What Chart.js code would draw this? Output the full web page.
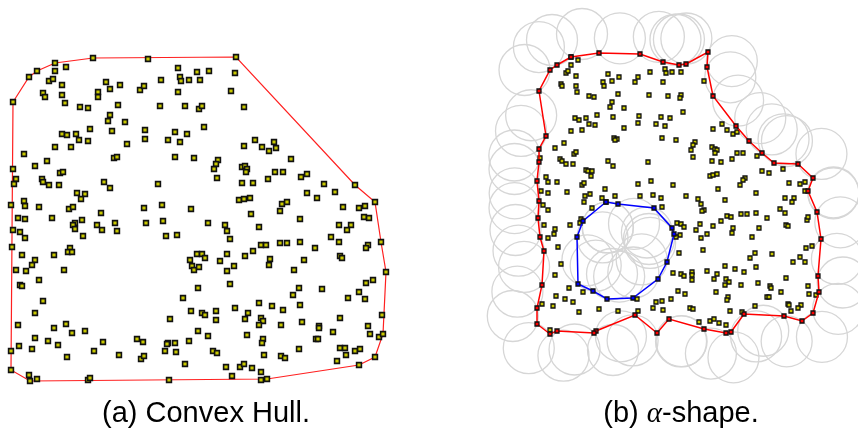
<!DOCTYPE html>
<html><head><meta charset="utf-8">
<script src="https://cdn.jsdelivr.net/npm/chart.js@4.4.0/dist/chart.umd.min.js"></script>
<style>
html,body{margin:0;padding:0;background:#fff;}
#wrap{position:relative;width:858px;height:430px;}
canvas{position:absolute;left:0;top:0;}
.cap{position:absolute;top:398px;width:320px;text-align:center;font-family:"Liberation Sans",Arial,sans-serif;font-size:29px;line-height:29px;color:#000;white-space:nowrap;}
.alpha{font-family:"Liberation Serif","DejaVu Serif",serif;font-style:italic;}
</style></head><body>
<div id="wrap"><canvas id="c" width="858" height="430"></canvas>
<div class="cap" style="left:46px">(a) Convex Hull.</div>
<div class="cap" style="left:521px">(b) <span class="alpha">α</span>-shape.</div>
</div>
<script>
// ---- Panel (a): point set and convex hull ----
const leftPoints = [
[66,67],[55,71],[49,81],[53,79],[62,85],[43,93],[45,97],[62,95],[65,103],[80,107],[88,108],[106,82],[110,89],[120,85],[98,92],[98,97],[118,105],[110,115],[108,121],[125,122],[90,129],[62,134],[67,135],[76,134],[79,140],[88,141],[112,131],[127,144],[55,147],[71,147],[24,154],[35,166],[47,161],[60,173],[63,172],[13,169],[16,179],[14,184],[42,179],[43,182],[49,185],[59,185],[77,193],[85,194],[81,199],[24,201],[25,206],[39,207],[69,209],[73,207],[101,213],[104,182],[110,188],[114,158],[117,157],[144,208],[162,205],[191,209],[158,184],[175,157],[194,158],[145,130],[145,139],[168,140],[175,132],[180,142],[187,134],[160,106],[185,106],[199,109],[140,90],[144,86],[178,92],[161,80],[180,77],[181,81],[189,80],[200,80],[178,68],[197,72],[11,205],
[13,102],[29,77],[37,71],[55,63],[93,58],[148,59],
[209,71],[235,73],[231,91],[202,106],[244,107],[204,127],[244,146],[255,140],[262,147],[269,151],[274,142],[276,148],[291,159],[218,160],[216,164],[214,169],[217,178],[242,167],[245,166],[247,169],[246,172],[242,183],[253,183],[268,179],[275,172],[283,172],[301,177],[307,174],[324,184],[335,192],[307,193],[317,198],[239,200],[244,199],[250,198],[282,204],[287,202],[280,211],[251,214],[343,207],[359,208],[365,206],[355,185],[375,202],[236,57],
[18,218],[25,219],[52,218],[13,230],[20,232],[25,238],[75,223],[73,225],[75,229],[82,220],[83,236],[97,225],[102,230],[115,223],[117,231],[146,223],[163,221],[166,236],[177,235],[12,247],[22,255],[35,260],[32,265],[16,270],[26,271],[54,255],[70,248],[68,252],[72,252],[64,270],[39,280],[20,285],[22,286],[43,301],[35,313],[18,325],[54,328],[66,324],[72,333],[85,331],[35,338],[48,341],[58,345],[19,346],[32,349],[67,357],[94,351],[103,342],[119,355],[137,339],[143,342],[141,359],[144,356],[165,351],[168,343],[167,344],[175,343],[176,352],[189,341],[185,364],[170,319],[183,298],[191,311],[197,254],[190,260],[192,266],[194,270],[199,267],[198,288],[11,351],[11,370],[29,375],[30,381],[37,379],[88,380],[90,378],[169,380],
[208,223],[225,225],[227,231],[259,227],[300,219],[339,225],[351,225],[347,230],[364,217],[369,218],[230,239],[331,237],[339,242],[381,242],[368,245],[366,248],[261,245],[266,245],[280,243],[287,243],[300,242],[315,248],[253,251],[245,256],[227,254],[202,254],[205,258],[220,261],[234,266],[227,271],[270,259],[269,265],[304,260],[294,270],[340,256],[342,258],[386,272],[230,284],[299,288],[322,289],[293,295],[366,283],[373,280],[359,292],[348,298],[365,299],[259,303],[272,306],[300,305],[235,308],[283,310],[202,313],[205,315],[216,311],[216,320],[248,313],[245,319],[261,318],[263,321],[259,325],[281,325],[302,322],[319,326],[319,328],[340,318],[368,326],[382,315],[333,332],[198,331],[208,336],[247,335],[263,339],[262,343],[316,339],[318,339],[370,334],[379,337],[383,334],[213,351],[217,353],[264,355],[281,356],[285,358],[299,349],[340,348],[345,348],[346,355],[355,351],[360,349],[375,357],[337,361],[359,365],[226,367],[240,367],[244,364],[252,368],[261,372],[232,376],[261,380],[267,379]
];
const leftHull = [[13,102],[29,77],[37,71],[55,63],[93,58],[236,57],[355,185],[375,202],[381,242],[386,272],[383,334],[375,357],[359,365],[267,379],[30,381],[11,370],[13,102]];

// ---- Panel (b): point set, outer alpha boundary and inner hole ----
const rightPoints = [
[578,60],[571,65],[566,73],[568,71],[576,76],[561,84],[562,86],[576,86],[577,92],[608,74],[603,82],[604,86],[612,81],[619,77],[638,77],[635,82],[650,72],[665,69],[666,73],[663,82],[589,96],[594,97],[612,102],[610,107],[624,108],[618,94],[649,95],[668,96],[597,115],[575,118],[579,120],[586,118],[613,117],[639,116],[661,117],[670,118],[589,124],[595,125],[571,131],[582,130],[624,128],[638,123],[656,124],[665,126],[662,138],[614,138],[617,139],[615,140],[555,148],[564,143],[574,154],[576,152],[560,159],[562,161],[566,164],[573,164],[540,158],[608,161],[613,166],[648,162],[586,170],[588,171],[592,171],[591,176],[546,177],[548,182],[557,182],[582,185],[584,183],[605,189],[638,184],[651,181],[541,191],[548,193],[567,192],[585,196],[590,194],[602,198],[615,196],[640,196],[653,195],[661,198],
[672,72],[681,72],[704,81],[681,95],[680,98],[683,112],[713,129],[722,124],[727,130],[733,134],[737,132],[676,140],[695,142],[693,145],[691,150],[712,147],[715,149],[717,150],[715,153],[693,157],[712,161],[721,162],[732,159],[737,153],[743,153],[757,156],[762,171],[769,173],[783,169],[710,176],[713,175],[717,174],[745,178],[743,180],[740,185],[673,185],[718,189],[756,193],[789,183],[800,184],[805,182],[805,191],[686,196],[698,199],[725,200],[785,198],[794,198],
[543,205],[548,210],[584,202],[592,208],[662,207],[581,219],[580,223],[570,225],[544,225],[555,229],[554,234],[548,238],[558,247],[561,264],[555,275],[569,288],[583,292],[556,296],[565,299],[573,302],[542,304],[553,306],[579,312],[599,309],[618,311],[638,311],[637,299],[653,308],[656,302],[662,301],[663,310],[550,330],
[701,204],[792,202],[704,210],[702,211],[727,216],[731,217],[741,214],[747,214],[756,213],[767,218],[780,209],[785,213],[677,223],[681,224],[684,227],[700,224],[713,226],[721,221],[733,228],[732,233],[759,228],[786,225],[788,226],[807,220],[808,217],[696,230],[707,234],[701,238],[680,235],[676,237],[752,237],[703,250],[679,253],[755,253],[750,258],[772,254],[800,257],[793,262],[805,262],[806,248],[812,246],[673,273],[681,274],[684,276],[692,272],[692,275],[692,280],[707,271],[717,274],[714,279],[725,266],[735,269],[744,272],[756,267],[726,279],[729,282],[725,285],[741,285],[758,283],[770,286],[771,288],[786,278],[808,286],[809,294],[816,295],[678,291],[685,294],[716,292],[671,299],[728,297],[727,300],[767,297],[769,297],[781,292],[755,306],[788,304],[789,305],[801,305],[798,308],[791,311],[690,308],[693,309],[730,311],[742,312],[699,322],[710,321],[714,319],[719,323],[726,325]
];
const outerBoundary = [[571,57],[599,53],[640,54],[663,62],[679,65],[686,64],[708,52],[707,67],[713,96],[736,126],[749,141],[762,153],[774,163],[798,164],[813,178],[808,191],[817,212],[821,239],[818,276],[819,292],[813,313],[802,321],[784,316],[744,314],[731,332],[726,333],[704,329],[669,319],[657,333],[635,315],[596,331],[594,333],[557,331],[550,334],[537,324],[537,308],[542,285],[544,251],[540,237],[538,218],[539,201],[537,181],[539,162],[539,149],[546,136],[539,91],[550,70],[557,65],[571,57]];
const holeBoundary = [[606,202],[618,204],[654,208],[672,228],[674,234],[667,262],[658,279],[633,298],[607,299],[593,291],[578,284],[577,237],[583,221],[606,202]];
const alphaRadius = 25.5;

const toXY = a => a.map(p => ({x: p[0], y: p[1]}));
// empty alpha-disk through each boundary edge, on the empty side
function edgeDisks(poly, side) {
  const out = [];
  for (let i = 0; i < poly.length - 1; i++) {
    const [x1, y1] = poly[i], [x2, y2] = poly[i + 1];
    const dx = x2 - x1, dy = y2 - y1, L = Math.hypot(dx, dy);
    if (L === 0 || L >= 2 * alphaRadius) continue;
    const h = Math.sqrt(alphaRadius * alphaRadius - L * L / 4);
    const nx = side * dy / L, ny = -side * dx / L;
    out.push({x: (x1 + x2) / 2 + h * nx, y: (y1 + y2) / 2 + h * ny});
  }
  return out;
}

const YEL = '#c8c800';
const common = {showLine: false, clip: false};
new Chart(document.getElementById('c'), {
  type: 'scatter',
  data: {
    datasets: [
      Object.assign({}, common, {label: 'disks', data: edgeDisks(outerBoundary, 1).concat(edgeDisks(holeBoundary, -1)),
        pointStyle: 'circle', pointRadius: alphaRadius, pointBackgroundColor: 'rgba(0,0,0,0)',
        pointBorderColor: '#d6d6d6', pointBorderWidth: 1.3, order: 10}),
      Object.assign({}, common, {label: 'hull', data: toXY(leftHull), showLine: true,
        borderColor: '#ff2020', borderWidth: 1.2, pointRadius: 0, tension: 0, fill: false, order: 6}),
      Object.assign({}, common, {label: 'ptsA', data: toXY(leftPoints), pointStyle: 'rect',
        pointRadius: 3.4, pointBackgroundColor: YEL, pointBorderColor: '#111', pointBorderWidth: 1.6, order: 3}),
      Object.assign({}, common, {label: 'ptsB', data: toXY(rightPoints), pointStyle: 'rect',
        pointRadius: 2.8, pointBackgroundColor: YEL, pointBorderColor: '#111', pointBorderWidth: 1.3, order: 3}),
      Object.assign({}, common, {label: 'outer', data: toXY(outerBoundary), showLine: true,
        borderColor: '#ff0000', borderWidth: 1.5, tension: 0, fill: false, pointStyle: 'rect',
        pointRadius: 2.8, pointBackgroundColor: '#ff0000', pointBorderColor: '#111', pointBorderWidth: 1.3, order: 1}),
      Object.assign({}, common, {label: 'hole', data: toXY(holeBoundary), showLine: true,
        borderColor: '#0000ff', borderWidth: 1.5, tension: 0, fill: false, pointStyle: 'rect',
        pointRadius: 2.8, pointBackgroundColor: '#0000ff', pointBorderColor: '#111', pointBorderWidth: 1.3, order: 1})
    ]
  },
  options: {
    responsive: false, animation: false, events: [],
    layout: {padding: 0, autoPadding: false},
    scales: {
      x: {type: 'linear', min: 0, max: 858, display: false},
      y: {type: 'linear', min: 0, max: 430, reverse: true, display: false}
    },
    plugins: {legend: {display: false}, tooltip: {enabled: false}, title: {display: false}}
  }
});
</script>
</body></html>
